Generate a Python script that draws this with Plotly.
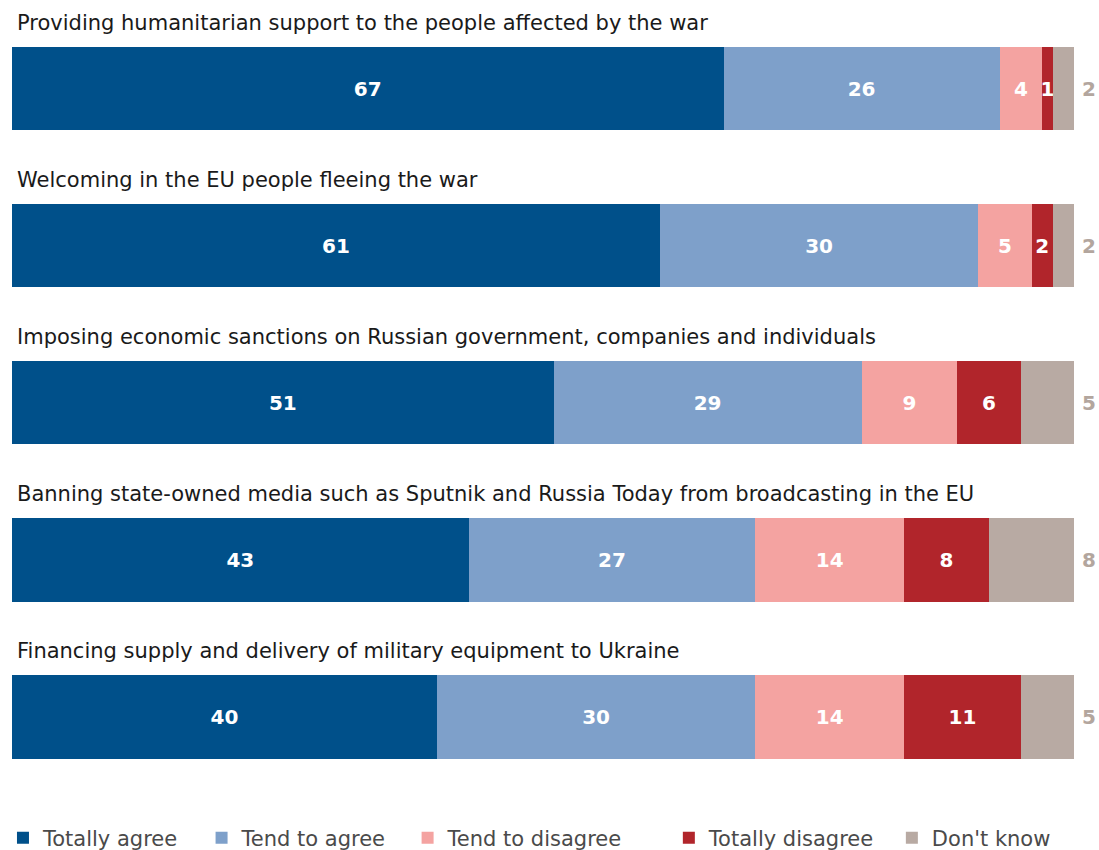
import plotly.graph_objects as go

categories = [
    "Providing humanitarian support to the people affected by the war",
    "Welcoming in the EU people fleeing the war",
    "Imposing economic sanctions on Russian government, companies and individuals",
    "Banning state-owned media such as Sputnik and Russia Today from broadcasting in the EU",
    "Financing supply and delivery of military equipment to Ukraine",
]
totally_agree = [67, 61, 51, 43, 40]
tend_agree = [26, 30, 29, 27, 30]
tend_disagree = [4, 5, 9, 14, 14]
totally_disagree = [1, 2, 6, 8, 11]
dont_know = [2, 2, 5, 8, 5]

series = [
    ("Totally agree", totally_agree, "#00508a"),
    ("Tend to agree", tend_agree, "#7ea0ca"),
    ("Tend to disagree", tend_disagree, "#f4a3a1"),
    ("Totally disagree", totally_disagree, "#b1252b"),
    ("Don't know", dont_know, "#b8aaa3"),
]
# legend entry positions (paper x) for each series
legend_x = [-0.0085, 0.1785, 0.3725, 0.6185, 0.8285]

FONT = "DejaVu Sans"
W, H = 1099, 850
M = dict(l=12, r=25, t=10, b=53, autoexpand=False)
plot_h = H - M["t"] - M["b"]
legend_y = -41 / plot_h

fig = go.Figure()
legend_layout = {}
for i, (name, vals, color) in enumerate(series):
    show_text = name != "Don't know"
    lg = "legend" if i == 0 else f"legend{i + 1}"
    fig.add_trace(go.Bar(
        name=name, y=categories, x=vals, orientation="h",
        marker=dict(color=color, line=dict(width=0)),
        text=[str(v) for v in vals] if show_text else None,
        textposition="inside" if show_text else "none",
        insidetextanchor="middle",
        constraintext="none",
        textfont=dict(family=FONT, size=20, color="white", weight="bold"),
        width=0.53,
        hoverinfo="skip",
        legend=lg,
        showlegend=True,
    ))
    legend_layout[lg] = dict(
        orientation="h", x=legend_x[i], xanchor="left", y=legend_y, yanchor="middle",
        font=dict(family=FONT, size=21, color="#4a4a4a"),
        itemwidth=30, bgcolor="rgba(0,0,0,0)", borderwidth=0, visible=True,
    )

totals = [a + b + c + d + e for a, b, c, d, e in zip(totally_agree, tend_agree, tend_disagree, totally_disagree, dont_know)]
for c, tot, dk in zip(categories, totals, dont_know):
    fig.add_annotation(x=tot, y=c, xref="x", yref="y", text=str(dk), showarrow=False,
                       xanchor="left", yanchor="middle", xshift=6,
                       font=dict(family=FONT, size=20, color="#b3a69e", weight="bold"))

for c in categories:
    fig.add_annotation(x=0, y=c, xref="x", yref="y", text=c, showarrow=False,
                       xanchor="left", yanchor="middle", yshift=66, xshift=3,
                       font=dict(family=FONT, size=21, color="#1a1a1a"))

fig.update_layout(
    barmode="stack",
    width=W, height=H,
    margin=M,
    showlegend=True,
    paper_bgcolor="white", plot_bgcolor="white",
    xaxis=dict(range=[0, 100], visible=False),
    yaxis=dict(autorange="reversed", visible=False),
    font=dict(family=FONT),
    **legend_layout,
)
fig.write_html("out.html", config={"displayModeBar": False},
               post_script="document.body.style.margin='0';document.body.style.overflow='hidden';")
